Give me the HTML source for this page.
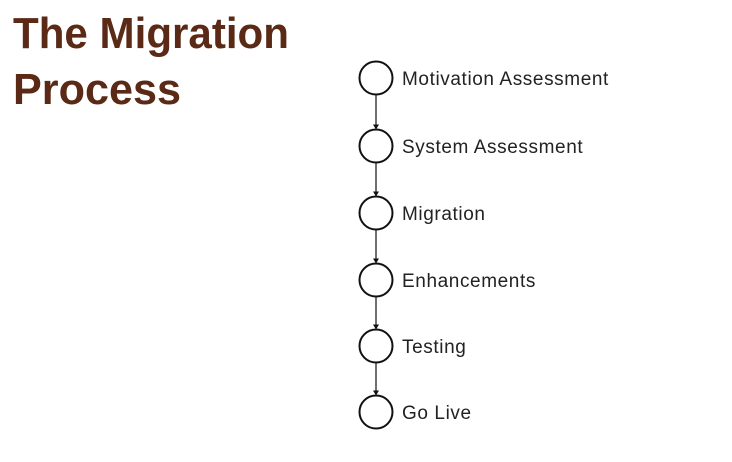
<!DOCTYPE html>
<html><head><meta charset="utf-8"><style>
html,body{margin:0;padding:0;background:#fff;width:732px;height:462px;overflow:hidden}
svg{display:block}
</style></head><body>
<svg width="732" height="462">
<text x="13" y="48" font-family="Liberation Sans, sans-serif" font-weight="bold" font-size="44" fill="#5a2a17" textLength="276" lengthAdjust="spacingAndGlyphs">The Migration</text>
<text x="13" y="104" font-family="Liberation Sans, sans-serif" font-weight="bold" font-size="44" fill="#5a2a17" textLength="168" lengthAdjust="spacingAndGlyphs">Process</text>
<g id="steps"></g>
</svg>
<script>
const steps=["Motivation Assessment","System Assessment","Migration","Enhancements","Testing","Go Live"];
const centersY=[78,146,213,280,346,412];
const g=document.getElementById('steps');
const ns='http://www.w3.org/2000/svg';
const cx=376,r=16.5;
for(let i=0;i<steps.length;i++){
  const y=centersY[i];
  if(i<steps.length-1){
    const y2=centersY[i+1]-r;
    const l=document.createElementNS(ns,'line');
    
    
    l.setAttribute('x1',cx);l.setAttribute('x2',cx);l.setAttribute('y1',y+r);l.setAttribute('y2',y2-4);
    l.setAttribute('stroke','#111');l.setAttribute('stroke-width','1.2');
    g.appendChild(l);
    const p=document.createElementNS(ns,'path');
    
    
    p.setAttribute('d',`M${cx-3},${y2-5} L${cx+3},${y2-5} L${cx},${y2} Z`);
    p.setAttribute('fill','#111');
    g.appendChild(p);
  }
  const c=document.createElementNS(ns,'circle');
  
  
  c.setAttribute('cx',cx);c.setAttribute('cy',y);c.setAttribute('r',r);
  c.setAttribute('fill','#fff');c.setAttribute('stroke','#111');c.setAttribute('stroke-width','2');
  g.appendChild(c);
  const t=document.createElementNS(ns,'text');
  
  
  t.setAttribute('x',402);t.setAttribute('y',y+7);
  t.setAttribute('font-family','Liberation Sans, sans-serif');
  t.setAttribute('font-size','19');t.setAttribute('letter-spacing','0.6');t.setAttribute('fill','#222');
  t.textContent=steps[i];
  g.appendChild(t);
}
</script>
</body></html>
